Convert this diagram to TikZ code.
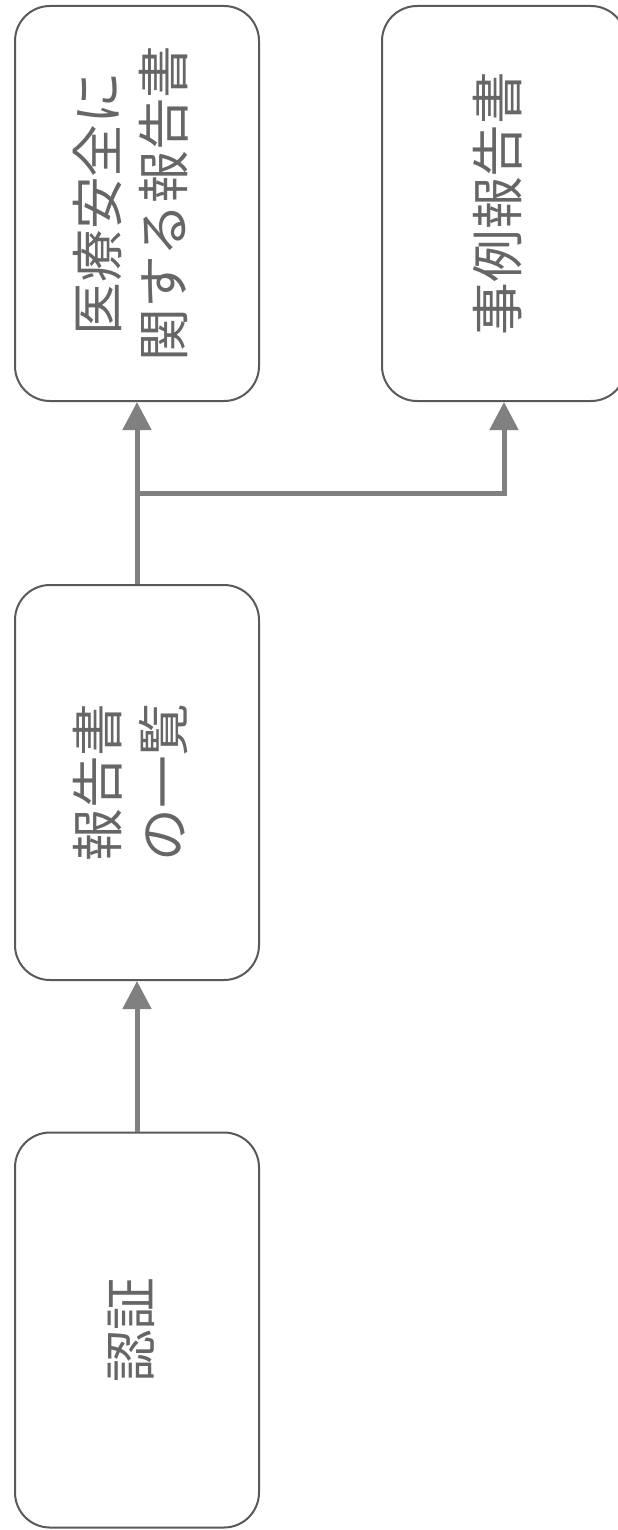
\documentclass[tikz,border=0pt]{standalone}
\usepackage{graphicx}
\usepackage{fontspec}
\newfontfamily\jpfont{Noto Sans CJK JP}
\usetikzlibrary{arrows.meta}

\tikzset{
  report/.style={draw=black!65, line width=0.04cm, rounded corners=0.7cm,
    minimum width=4.88cm, minimum height=7.9cm, inner sep=0pt,
    text=black!60, font=\jpfont\fontsize{30}{37.6}\selectfont},
  flow/.style={draw=black!50, line width=0.1cm,
    -{Triangle[length=0.56cm,width=0.56cm]}}
}
\newcommand{\vlabel}[1]{\rotatebox{90}{\begin{tabular}{@{}c@{}}#1\end{tabular}}}

\begin{document}
\begin{tikzpicture}
		\useasboundingbox (0,0) rectangle (12.34,-30.6);
		
		\node[report] (auth) at (2.74,-26.6) {\vlabel{認証}};
		\node[report] (list) at (2.74,-15.65) {\vlabel{報告書\\の一覧}};
		
		\node[report] (safety) at (2.74,-4.07) {\vlabel{医療安全に\\関する報告書}};
		\node[report] (cases) at (10.08,-4.07) {\vlabel{事例報告書}};
		
		\draw[flow] (auth.north) -- (list.south);
		\draw[flow] (list.north) -- (safety.south);
		
		\coordinate (split) at (2.74,-9.86);
		\draw[flow] (split) -| (cases.south);
		
	\end{tikzpicture}
\end{document}
